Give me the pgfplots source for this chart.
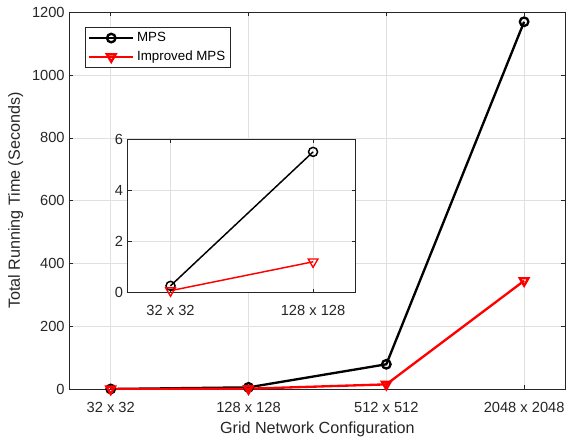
\documentclass[border=0pt]{standalone}
\usepackage{pgfplots}
\pgfplotsset{compat=1.18}
\usepackage{fontspec}
\setmainfont{Liberation Sans}
\usetikzlibrary{calc}
\definecolor{axgray}{gray}{0.15}
\definecolor{gridgray}{gray}{0.88}
\begin{document}
\begin{tikzpicture}
\begin{axis}[name=main, scale only axis, width=372pt, height=282.5pt,
  xmin=0.7, xmax=4.3, ymin=0, ymax=1200,
  xtick={1,2,3,4}, xticklabels={32 x 32, 128 x 128, 512 x 512, 2048 x 2048},
  ytick={0,200,...,1200},
  grid=major, major grid style={gridgray, line width=0.5pt},
  axis line style={axgray, line width=0.5pt},
  tick style={axgray, line width=0.5pt}, major tick length=3pt,
  tick label style={font=\fontsize{11}{13}\selectfont, text=axgray},
  /pgf/number format/assume math mode=true,
  /pgf/number format/1000 sep={},
  scaled y ticks=false,
  xticklabel style={anchor=base, yshift=-17.25pt},
  xlabel={Grid Network Configuration},
  ylabel={Total Running Time (Seconds)},
  xlabel style={font=\fontsize{12.1}{14}\selectfont, text=axgray, at={(axis description cs:0.5,0)}, anchor=base, yshift=-33pt},
  ylabel style={font=\fontsize{12.1}{14}\selectfont, text=axgray, at={(axis description cs:-0.0995,0.5)}, anchor=base},
  legend image code/.code={\draw[mark repeat=2,mark phase=2] plot coordinates {(0pt,0pt) (16.5pt,0pt) (33pt,0pt)};},
  legend style={at={(0.0317,0.960)}, anchor=north west, font=\fontsize{10}{12}\selectfont,
    draw=axgray, line width=0.5pt, inner xsep=2pt, inner ysep=1.5pt, row sep=1.5pt,
    cells={anchor=west}, text=black},
]
\addplot[black, line width=1.75pt, mark=o, mark size=3.2pt] coordinates {(1,0.27) (2,5.5) (3,79) (4,1170)};
\addlegendentry{MPS}
\addplot[red, line width=1.75pt, mark=triangle, mark size=3.7pt, mark options={rotate=180}] coordinates {(1,0.08) (2,1.21) (3,15) (4,345)};
\addlegendentry{Improved MPS}
\end{axis}
\begin{axis}[at={($(main.north west)+(43.8pt,-95.25pt)$)}, anchor=north west,
  scale only axis, width=171pt, height=115pt,
  xmin=0.7, xmax=2.3, ymin=0, ymax=6,
  xtick={1,2}, xticklabels={32 x 32, 128 x 128},
  ytick={0,2,4,6},
  axis background/.style={fill=white},
  grid=major, major grid style={gridgray, line width=0.5pt},
  axis line style={axgray, line width=0.5pt},
  tick style={axgray, line width=0.5pt}, major tick length=3pt,
  tick label style={font=\fontsize{11}{13}\selectfont, text=axgray},
  /pgf/number format/assume math mode=true,
  xticklabel style={anchor=base, yshift=-16.7pt},
]
\addplot[black, line width=1.1pt, mark=o, mark size=3.4pt] coordinates {(1,0.27) (2,5.51)};
\addplot[red, line width=1.1pt, mark=triangle, mark size=4.2pt, mark options={rotate=180, line width=1pt}] coordinates {(1,0.08) (2,1.21)};
\end{axis}
\pgfresetboundingbox
\path ($(main.south west)+(-52pt,-36.75pt)$) rectangle ($(main.north east)+(0.4pt,9.25pt)$);
\end{tikzpicture}
\end{document}
